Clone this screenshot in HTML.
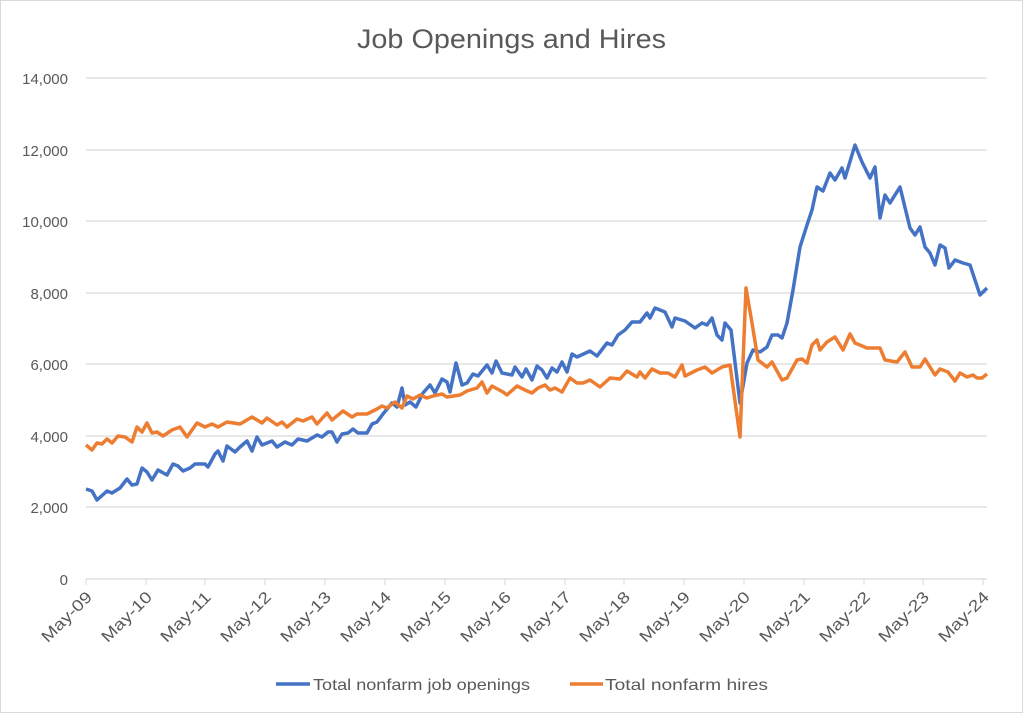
<!DOCTYPE html>
<html><head><meta charset="utf-8"><style>
body{margin:0;background:#fff}
svg{display:block;font-family:"Liberation Sans",sans-serif}
</style></head><body>
<svg width="1024" height="714" viewBox="0 0 1024 714">
<rect x="0.5" y="0.5" width="1022" height="712" fill="#fff" stroke="#d9d9d9"/>
<text x="357" y="48" textLength="309" lengthAdjust="spacingAndGlyphs" font-size="27" fill="#595959">Job Openings and Hires</text>
<g stroke="#d9d9d9" stroke-width="1.3">
<line x1="86" x2="987" y1="78" y2="78"/><line x1="86" x2="987" y1="150" y2="150"/>
<line x1="86" x2="987" y1="221" y2="221"/><line x1="86" x2="987" y1="293" y2="293"/>
<line x1="86" x2="987" y1="364" y2="364"/><line x1="86" x2="987" y1="436" y2="436"/>
<line x1="86" x2="987" y1="507" y2="507"/><line x1="86" x2="987" y1="579" y2="579"/>
</g>
<g stroke="#d9d9d9" stroke-width="1">
<line x1="86" x2="86" y1="579" y2="585"/><line x1="146" x2="146" y1="579" y2="585"/><line x1="205" x2="205" y1="579" y2="585"/><line x1="265" x2="265" y1="579" y2="585"/><line x1="325" x2="325" y1="579" y2="585"/><line x1="385" x2="385" y1="579" y2="585"/><line x1="445" x2="445" y1="579" y2="585"/><line x1="505" x2="505" y1="579" y2="585"/><line x1="565" x2="565" y1="579" y2="585"/><line x1="624" x2="624" y1="579" y2="585"/><line x1="684" x2="684" y1="579" y2="585"/><line x1="744" x2="744" y1="579" y2="585"/><line x1="804" x2="804" y1="579" y2="585"/><line x1="864" x2="864" y1="579" y2="585"/><line x1="923" x2="923" y1="579" y2="585"/><line x1="983" x2="983" y1="579" y2="585"/>
</g>
<g font-size="15" fill="#595959" text-anchor="end">
<text x="68" y="84">14,000</text><text x="68" y="156">12,000</text><text x="68" y="227">10,000</text><text x="68" y="299">8,000</text><text x="68" y="370">6,000</text><text x="68" y="442">4,000</text><text x="68" y="513">2,000</text><text x="68" y="585">0</text>
</g>
<g font-size="16" fill="#595959" text-anchor="end">
<text transform="translate(93,598) rotate(-45)" textLength="64" lengthAdjust="spacingAndGlyphs">May-09</text>
<text transform="translate(153,598) rotate(-45)" textLength="64" lengthAdjust="spacingAndGlyphs">May-10</text>
<text transform="translate(212,598) rotate(-45)" textLength="64" lengthAdjust="spacingAndGlyphs">May-11</text>
<text transform="translate(272,598) rotate(-45)" textLength="64" lengthAdjust="spacingAndGlyphs">May-12</text>
<text transform="translate(332,598) rotate(-45)" textLength="64" lengthAdjust="spacingAndGlyphs">May-13</text>
<text transform="translate(392,598) rotate(-45)" textLength="64" lengthAdjust="spacingAndGlyphs">May-14</text>
<text transform="translate(452,598) rotate(-45)" textLength="64" lengthAdjust="spacingAndGlyphs">May-15</text>
<text transform="translate(512,598) rotate(-45)" textLength="64" lengthAdjust="spacingAndGlyphs">May-16</text>
<text transform="translate(572,598) rotate(-45)" textLength="64" lengthAdjust="spacingAndGlyphs">May-17</text>
<text transform="translate(631,598) rotate(-45)" textLength="64" lengthAdjust="spacingAndGlyphs">May-18</text>
<text transform="translate(691,598) rotate(-45)" textLength="64" lengthAdjust="spacingAndGlyphs">May-19</text>
<text transform="translate(751,598) rotate(-45)" textLength="64" lengthAdjust="spacingAndGlyphs">May-20</text>
<text transform="translate(811,598) rotate(-45)" textLength="64" lengthAdjust="spacingAndGlyphs">May-21</text>
<text transform="translate(871,598) rotate(-45)" textLength="64" lengthAdjust="spacingAndGlyphs">May-22</text>
<text transform="translate(930,598) rotate(-45)" textLength="64" lengthAdjust="spacingAndGlyphs">May-23</text>
<text transform="translate(990,598) rotate(-45)" textLength="64" lengthAdjust="spacingAndGlyphs">May-24</text>
</g>
<polyline fill="none" stroke="#4472c4" stroke-width="3.5" stroke-linejoin="round" points="86,489 92,491 97,500 107,491 112,493 120,488 127,479 132,485 137,484 142,468 147,472 152,480 158,470 167,475 173,464 178,466 183,471 190,468 195,464 205,464 208,467 215,454 218,451 223,461 227,446 235,452 240,447 247,441 252,451 257,437 262,445 272,441 277,447 285,442 292,445 298,439 307,441 317,435 322,437 328,432 332,432 337,442 342,434 348,433 353,429 358,433 367,433 372,424 377,422 383,414 392,403 397,407 402,388 405,405 410,402 416,407 423,393 430,385 435,393 442,379 447,382 450,392 456,363 462,385 467,383 473,374 478,376 487,365 492,373 496,361 502,373 512,375 515,367 522,377 526,369 532,380 537,366 542,370 547,378 552,368 557,372 562,362 567,372 572,354 577,357 590,351 597,356 607,343 612,345 618,335 625,330 632,322 640,322 647,313 650,318 655,308 665,312 672,327 675,318 685,321 695,328 702,323 707,325 712,318 717,335 722,340 725,323 731,330 740,403 747,363 753,350 760,352 767,347 772,335 778,335 782,338 787,323 793,290 800,247 807,225 812,210 817,187 823,191 830,173 835,180 842,168 845,178 855,145 862,162 870,178 875,167 880,218 885,195 890,203 900,187 910,228 915,235 920,227 925,247 930,253 935,265 940,245 945,248 949,268 955,260 963,263 970,265 980,295 987,288"/>
<polyline fill="none" stroke="#ed7d31" stroke-width="3.5" stroke-linejoin="round" points="86,445 92,450 97,443 102,444 107,439 112,443 118,436 125,437 132,442 137,427 142,432 147,423 152,433 157,432 163,436 172,430 180,427 187,437 197,423 205,427 212,424 218,427 227,422 240,424 252,417 262,423 267,418 277,425 282,422 287,427 297,419 303,421 312,417 317,424 327,413 332,420 343,411 352,417 357,414 367,414 377,409 382,406 387,408 395,402 402,408 407,396 413,399 420,395 427,398 433,396 442,394 447,397 460,395 467,391 477,388 482,382 487,393 492,386 503,392 507,395 517,386 525,390 532,393 538,388 545,385 550,390 555,388 562,392 570,378 577,383 583,383 590,380 600,387 610,378 620,379 627,371 637,377 640,372 645,378 652,369 660,373 668,373 675,377 682,365 685,376 697,370 705,367 712,373 722,367 730,365 740,437 746,288 752,323 758,360 767,367 772,362 782,380 787,378 797,360 802,359 807,363 812,345 817,340 820,350 827,342 835,337 843,350 850,334 855,343 867,348 880,348 885,360 897,362 905,352 912,367 920,367 925,359 935,375 940,369 948,372 955,381 960,373 967,377 973,375 977,378 982,378 987,374"/>
<line x1="276" x2="310" y1="684" y2="684" stroke="#4472c4" stroke-width="3.5"/>
<text x="313" y="690" font-size="16" fill="#595959" textLength="217" lengthAdjust="spacingAndGlyphs">Total nonfarm job openings</text>
<line x1="570" x2="603" y1="684" y2="684" stroke="#ed7d31" stroke-width="3.5"/>
<text x="605" y="690" font-size="16" fill="#595959" textLength="163" lengthAdjust="spacingAndGlyphs">Total nonfarm hires</text>
</svg>
</body></html>
